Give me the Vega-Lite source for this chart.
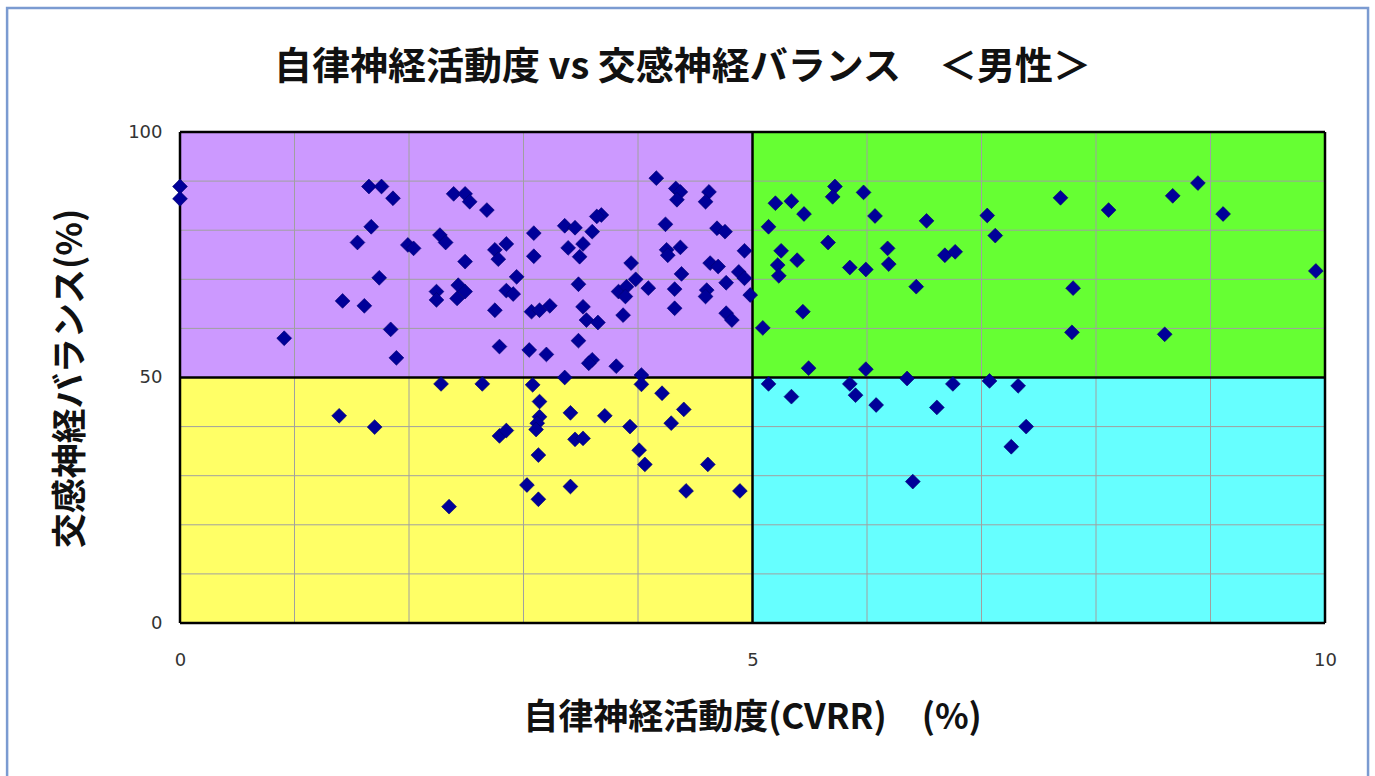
{
  "$schema": "https://vega.github.io/schema/vega-lite/v6.json",
  "autosize": {"type": "none"},
  "width": 1145,
  "height": 491,
  "padding": {"left": 180, "top": 132, "right": 50, "bottom": 153},
  "background": "#ffffff",
  "config": {"view": {"stroke": null}},
  "title": {
    "text": "自律神経活動度 vs 交感神経バランス　＜男性＞",
    "font": "Noto Sans CJK JP",
    "fontSize": 38,
    "fontWeight": "bold",
    "color": "#111111",
    "anchor": "middle",
    "frame": "group",
    "dx": -70,
    "dy": 99,
    "baseline": "middle",
    "offset": 0,
    "limit": 1300
  },
  "datasets": {
    "quads": [
      {"q": "upper-left", "x0": 0, "x1": 5, "y0": 50, "y1": 100},
      {"q": "upper-right", "x0": 5, "x1": 10, "y0": 50, "y1": 100},
      {"q": "lower-left", "x0": 0, "x1": 5, "y0": 0, "y1": 50},
      {"q": "lower-right", "x0": 5, "x1": 10, "y0": 0, "y1": 50}
    ],
    "gridx": [{"v": 1}, {"v": 2}, {"v": 3}, {"v": 4}, {"v": 6}, {"v": 7}, {"v": 8}, {"v": 9}],
    "gridy": [{"v": 10}, {"v": 20}, {"v": 30}, {"v": 40}, {"v": 60}, {"v": 70}, {"v": 80}, {"v": 90}],
    "borderx": [{"v": 0}, {"v": 5}, {"v": 10}],
    "bordery": [{"v": 0}, {"v": 50}, {"v": 100}],
    "points": [
      {"cvrr": 0, "balance": 88.9}, {"cvrr": 0, "balance": 86.4}, {"cvrr": 1.65, "balance": 88.9}, {"cvrr": 1.76, "balance": 88.9},
      {"cvrr": 1.86, "balance": 86.5}, {"cvrr": 1.67, "balance": 80.7}, {"cvrr": 1.55, "balance": 77.5}, {"cvrr": 1.99, "balance": 77.0},
      {"cvrr": 2.04, "balance": 76.3}, {"cvrr": 2.27, "balance": 79.0}, {"cvrr": 2.32, "balance": 77.5}, {"cvrr": 2.39, "balance": 87.4},
      {"cvrr": 2.49, "balance": 87.4}, {"cvrr": 2.53, "balance": 85.8}, {"cvrr": 2.49, "balance": 73.6}, {"cvrr": 1.74, "balance": 70.3},
      {"cvrr": 2.24, "balance": 67.5}, {"cvrr": 2.24, "balance": 65.8}, {"cvrr": 2.43, "balance": 68.8}, {"cvrr": 2.42, "balance": 66.1},
      {"cvrr": 2.49, "balance": 67.5}, {"cvrr": 1.42, "balance": 65.6}, {"cvrr": 1.61, "balance": 64.6}, {"cvrr": 1.84, "balance": 59.8},
      {"cvrr": 0.91, "balance": 58.0}, {"cvrr": 1.89, "balance": 54.0},
      {"cvrr": 2.68, "balance": 84.1}, {"cvrr": 4.16, "balance": 90.6}, {"cvrr": 4.33, "balance": 88.5}, {"cvrr": 4.37, "balance": 87.8},
      {"cvrr": 4.34, "balance": 86.2}, {"cvrr": 4.62, "balance": 87.8}, {"cvrr": 4.59, "balance": 85.8}, {"cvrr": 3.68, "balance": 83.1},
      {"cvrr": 3.64, "balance": 82.8}, {"cvrr": 3.36, "balance": 80.9}, {"cvrr": 3.45, "balance": 80.5}, {"cvrr": 3.60, "balance": 79.7},
      {"cvrr": 3.09, "balance": 79.4}, {"cvrr": 4.24, "balance": 81.2}, {"cvrr": 4.69, "balance": 80.4}, {"cvrr": 4.76, "balance": 79.7},
      {"cvrr": 2.85, "balance": 77.2}, {"cvrr": 2.75, "balance": 76.0}, {"cvrr": 2.78, "balance": 74.1}, {"cvrr": 3.09, "balance": 74.7},
      {"cvrr": 3.39, "balance": 76.4}, {"cvrr": 3.52, "balance": 77.2}, {"cvrr": 3.49, "balance": 74.6}, {"cvrr": 4.25, "balance": 76.0},
      {"cvrr": 4.37, "balance": 76.5}, {"cvrr": 4.26, "balance": 74.9}, {"cvrr": 4.93, "balance": 75.8}, {"cvrr": 4.63, "balance": 73.3},
      {"cvrr": 4.70, "balance": 72.6}, {"cvrr": 3.94, "balance": 73.3}, {"cvrr": 2.94, "balance": 70.5}, {"cvrr": 4.38, "balance": 71.1},
      {"cvrr": 3.98, "balance": 70.0}, {"cvrr": 4.88, "balance": 71.5}, {"cvrr": 4.93, "balance": 70.2}, {"cvrr": 4.77, "balance": 69.3},
      {"cvrr": 2.85, "balance": 67.7}, {"cvrr": 2.91, "balance": 67.0}, {"cvrr": 3.48, "balance": 69.0}, {"cvrr": 3.83, "balance": 67.5},
      {"cvrr": 3.90, "balance": 68.5}, {"cvrr": 3.89, "balance": 66.5}, {"cvrr": 4.09, "balance": 68.2}, {"cvrr": 4.32, "balance": 68.0},
      {"cvrr": 4.60, "balance": 67.8}, {"cvrr": 4.59, "balance": 66.5}, {"cvrr": 4.98, "balance": 66.8}, {"cvrr": 2.75, "balance": 63.7},
      {"cvrr": 3.07, "balance": 63.4}, {"cvrr": 3.14, "balance": 63.7}, {"cvrr": 3.23, "balance": 64.6}, {"cvrr": 3.52, "balance": 64.4},
      {"cvrr": 3.55, "balance": 61.7}, {"cvrr": 3.65, "balance": 61.2}, {"cvrr": 3.87, "balance": 62.7}, {"cvrr": 4.32, "balance": 64.1},
      {"cvrr": 4.77, "balance": 63.1}, {"cvrr": 4.82, "balance": 61.7}, {"cvrr": 2.79, "balance": 56.3}, {"cvrr": 3.05, "balance": 55.6},
      {"cvrr": 3.20, "balance": 54.7}, {"cvrr": 3.48, "balance": 57.5}, {"cvrr": 3.60, "balance": 53.6}, {"cvrr": 3.57, "balance": 52.9},
      {"cvrr": 3.81, "balance": 52.3}, {"cvrr": 4.03, "balance": 50.5}, {"cvrr": 3.36, "balance": 50.0},
      {"cvrr": 5.20, "balance": 85.5}, {"cvrr": 5.34, "balance": 85.9}, {"cvrr": 5.45, "balance": 83.3}, {"cvrr": 5.14, "balance": 80.7},
      {"cvrr": 5.72, "balance": 88.9}, {"cvrr": 5.70, "balance": 86.8}, {"cvrr": 5.97, "balance": 87.7}, {"cvrr": 6.07, "balance": 82.9},
      {"cvrr": 6.52, "balance": 81.9}, {"cvrr": 7.05, "balance": 83.0}, {"cvrr": 7.12, "balance": 78.9}, {"cvrr": 5.66, "balance": 77.5},
      {"cvrr": 5.25, "balance": 75.8}, {"cvrr": 5.22, "balance": 72.9}, {"cvrr": 5.23, "balance": 70.7}, {"cvrr": 5.39, "balance": 73.9},
      {"cvrr": 5.85, "balance": 72.4}, {"cvrr": 5.99, "balance": 72.0}, {"cvrr": 6.18, "balance": 76.3}, {"cvrr": 6.19, "balance": 73.1},
      {"cvrr": 6.68, "balance": 74.9}, {"cvrr": 6.77, "balance": 75.6}, {"cvrr": 6.43, "balance": 68.5}, {"cvrr": 5.44, "balance": 63.4},
      {"cvrr": 5.09, "balance": 60.1}, {"cvrr": 5.49, "balance": 51.9}, {"cvrr": 5.99, "balance": 51.7},
      {"cvrr": 7.69, "balance": 86.6}, {"cvrr": 8.11, "balance": 84.1}, {"cvrr": 8.67, "balance": 87.0}, {"cvrr": 8.89, "balance": 89.6},
      {"cvrr": 9.11, "balance": 83.3}, {"cvrr": 9.92, "balance": 71.7}, {"cvrr": 7.80, "balance": 68.2}, {"cvrr": 7.79, "balance": 59.2},
      {"cvrr": 8.60, "balance": 58.8},
      {"cvrr": 2.28, "balance": 48.7}, {"cvrr": 1.39, "balance": 42.2}, {"cvrr": 1.70, "balance": 39.9}, {"cvrr": 2.35, "balance": 23.7},
      {"cvrr": 2.64, "balance": 48.7}, {"cvrr": 3.08, "balance": 48.5}, {"cvrr": 4.03, "balance": 48.6}, {"cvrr": 3.14, "balance": 45.1},
      {"cvrr": 3.41, "balance": 42.8}, {"cvrr": 3.71, "balance": 42.2}, {"cvrr": 4.21, "balance": 46.8}, {"cvrr": 4.40, "balance": 43.5},
      {"cvrr": 4.29, "balance": 40.7}, {"cvrr": 3.93, "balance": 40.0}, {"cvrr": 3.14, "balance": 42.0}, {"cvrr": 3.12, "balance": 40.7},
      {"cvrr": 3.11, "balance": 39.4}, {"cvrr": 2.79, "balance": 38.1}, {"cvrr": 2.85, "balance": 39.2}, {"cvrr": 3.45, "balance": 37.4},
      {"cvrr": 3.52, "balance": 37.6}, {"cvrr": 3.13, "balance": 34.2}, {"cvrr": 4.01, "balance": 35.2}, {"cvrr": 4.06, "balance": 32.3},
      {"cvrr": 4.61, "balance": 32.3}, {"cvrr": 3.03, "balance": 28.1}, {"cvrr": 3.13, "balance": 25.2}, {"cvrr": 3.41, "balance": 27.8},
      {"cvrr": 4.42, "balance": 26.9}, {"cvrr": 4.89, "balance": 26.9},
      {"cvrr": 5.14, "balance": 48.7}, {"cvrr": 5.34, "balance": 46.1}, {"cvrr": 5.85, "balance": 48.7}, {"cvrr": 5.90, "balance": 46.4},
      {"cvrr": 6.08, "balance": 44.4}, {"cvrr": 6.35, "balance": 49.8}, {"cvrr": 6.61, "balance": 43.9}, {"cvrr": 6.75, "balance": 48.7},
      {"cvrr": 7.07, "balance": 49.3}, {"cvrr": 7.32, "balance": 48.3}, {"cvrr": 7.39, "balance": 40.0}, {"cvrr": 7.26, "balance": 35.9},
      {"cvrr": 6.40, "balance": 28.8}
    ]
  },
  "layer": [
    {
      "data": {"name": "quads"},
      "mark": {"type": "rect", "strokeWidth": 0},
      "encoding": {
        "x": {
          "field": "x0", "type": "quantitative",
          "scale": {"domain": [0, 10], "nice": false, "zero": false},
          "axis": {
            "values": [0, 5, 10],
            "format": "d",
            "title": "自律神経活動度(CVRR)　(%)",
            "grid": false, "ticks": false, "tickSize": 0, "domain": false,
            "labelFont": "DejaVu Sans", "labelFontSize": 18, "labelColor": "#333333",
            "labelPadding": 28, "labelFlush": false,
            "titleFont": "Noto Sans CJK JP", "titleFontSize": 35, "titleFontWeight": "bold", "titleColor": "#111111",
            "titleX": 572, "titleY": 94, "titleBaseline": "middle", "titleAlign": "center"
          }
        },
        "x2": {"field": "x1"},
        "y": {
          "field": "y0", "type": "quantitative",
          "scale": {"domain": [0, 100], "nice": false, "zero": false},
          "axis": {
            "values": [0, 50, 100],
            "format": "d",
            "title": "交感神経バランス(%)",
            "grid": false, "ticks": false, "tickSize": 0, "domain": false,
            "labelFont": "DejaVu Sans", "labelFontSize": 18, "labelColor": "#333333",
            "labelPadding": 18, "labelFlush": false,
            "titleFont": "Noto Sans CJK JP", "titleFontSize": 35, "titleFontWeight": "bold", "titleColor": "#111111",
            "titleX": -110, "titleY": 246, "titleAngle": -90, "titleBaseline": "middle", "titleAlign": "center"
          }
        },
        "y2": {"field": "y1"},
        "color": {
          "field": "q", "type": "nominal",
          "scale": {
            "domain": ["upper-left", "upper-right", "lower-left", "lower-right"],
            "range": ["#CC99FF", "#66FF33", "#FFFF66", "#66FFFF"]
          },
          "legend": null
        }
      }
    },
    {
      "data": {"name": "gridx"},
      "mark": {"type": "rule", "color": "#a0a0a0", "strokeWidth": 1},
      "encoding": {"x": {"field": "v", "type": "quantitative"}}
    },
    {
      "data": {"name": "gridy"},
      "mark": {"type": "rule", "color": "#a0a0a0", "strokeWidth": 1},
      "encoding": {"y": {"field": "v", "type": "quantitative"}}
    },
    {
      "data": {"name": "borderx"},
      "mark": {"type": "rule", "color": "#000000", "strokeWidth": 2.5},
      "encoding": {"x": {"field": "v", "type": "quantitative"}}
    },
    {
      "data": {"name": "bordery"},
      "mark": {"type": "rule", "color": "#000000", "strokeWidth": 2.5},
      "encoding": {"y": {"field": "v", "type": "quantitative"}}
    },
    {
      "data": {"name": "points"},
      "mark": {"type": "point", "shape": "diamond", "filled": true, "size": 220, "color": "#000099", "opacity": 1, "stroke": "#00006a", "strokeWidth": 0.6},
      "encoding": {
        "x": {"field": "cvrr", "type": "quantitative"},
        "y": {"field": "balance", "type": "quantitative"}
      }
    },
    {
      "data": {"values": [{}]},
      "mark": {"type": "rect", "fill": null, "stroke": "#7b9bd1", "strokeWidth": 2.5},
      "encoding": {
        "x": {"datum": -1.51, "type": "quantitative"},
        "x2": {"datum": 10.376},
        "y": {"datum": -32, "type": "quantitative"},
        "y2": {"datum": 125.25}
      }
    }
  ]
}
